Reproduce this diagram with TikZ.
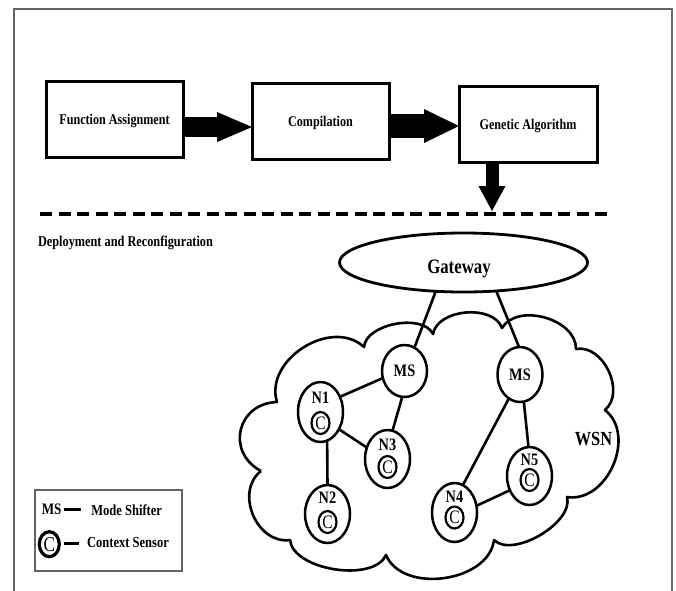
\documentclass[tikz,border=0pt]{standalone}
\usepackage{fontspec}
\setmainfont{Liberation Serif}[FakeStretch=0.82]
\usetikzlibrary{arrows.meta,shapes.geometric}

\newcommand{\fsz}[1]{\fontsize{#1}{#1}\selectfont}

\begin{document}
\begin{tikzpicture}[x=1pt,y=1pt,
  every node/.style={inner sep=0pt, outer sep=0pt},
  frameline/.style={draw=black!60, line width=1.3pt},
  stage/.style={draw, line width=3pt, minimum width=137pt, minimum height=76pt,
    font=\bfseries\fsz{14.8}, text depth=0pt},
  flowA/.style={line width=20pt, -{Triangle[length=35pt,width=30pt,line width=0pt]}},
  flowB/.style={line width=24pt, -{Triangle[length=35pt,width=34pt,line width=0pt]}},
  flowdown/.style={line width=13pt, -{Triangle[length=25pt,width=27pt,line width=0pt]}},
  divider/.style={line width=4pt, dash pattern=on 12pt off 6.5pt},
  cloudline/.style={line width=2.6pt, line join=round},
  gwnode/.style={draw, ellipse, line width=2.8pt, minimum width=248pt, minimum height=59pt},
  msnode/.style={draw, ellipse, line width=2.5pt, minimum width=45pt,
    font=\bfseries\fsz{17.5}, text depth=0pt},
  snode/.style={draw, ellipse, line width=2.5pt, minimum width=45pt, minimum height=59pt},
  nlab/.style={font=\bfseries\fsz{17.5}, text depth=0pt},
  csym/.style={draw, ellipse, line width=2.2pt, minimum width=18pt, minimum height=22pt,
    font=\fsz{19}, text depth=0pt},
  link/.style={line width=2.6pt},
  legbox/.style={draw=black!60, line width=1.3pt, minimum width=147pt, minimum height=81pt},
  legsym/.style={draw, ellipse, line width=3.2pt, minimum width=20pt, minimum height=25pt,
    font=\fsz{21}, text depth=0pt},
  legtxt/.style={font=\bfseries\fsz{15.3}, text depth=0pt},
  legdash/.style={line width=3pt}
]
\useasboundingbox (0,0) rectangle (676,-590);

% outer frame
\draw[frameline] (14,-600) -- (14,-9) -- (672,-9) -- (672,-600);

% design flow
\node[stage] (fa) at (114.5,-119.5) {Function Assignment};
\node[stage] (comp) at (320.5,-121) {Compilation};
\node[stage, minimum width=138pt] (ga) at (528,-124) {Genetic Algorithm};

\coordinate (a1) at (0,-127);
\coordinate (a2) at (0,-126);
\draw[flowA] (fa.east |- a1) -- (comp.west |- a1);
\draw[flowB] (comp.east |- a2) -- (ga.west |- a2);

\coordinate (dtip) at (492,-211);
\draw[flowdown] (ga.south -| dtip) -- (dtip);

% separator
\coordinate (dl) at (40,-214);
\coordinate (dr) at (612,-214);
\draw[divider] (dl) -- (dr);

\node[anchor=west, font=\bfseries\fsz{15}, text depth=0pt] (deploy) at (38,-241)
  {Deployment and Reconfiguration};

% sensor network cloud
\coordinate (p1) at (261,-471);
\coordinate (p2) at (277,-402);
\coordinate (p3) at (364,-347);
\coordinate (p4) at (433,-334);
\coordinate (p5) at (502,-328);
\coordinate (p6) at (576,-349);
\coordinate (p7) at (605,-410);
\coordinate (p8) at (567,-497);
\coordinate (p9) at (494,-540);
\coordinate (p10) at (386,-555);
\coordinate (p11) at (290,-540);
\draw[cloudline]
  (p1) to[bend left=75, looseness=1.45] (p2)
       to[bend left=75, looseness=1.1] (p3)
       to[bend left=75, looseness=0.85] (p4)
       to[bend left=75, looseness=0.95] (p5)
       to[bend left=75, looseness=1.0] (p6)
       to[bend left=75, looseness=1.05] (p7)
       to[bend left=75, looseness=1.1] (p8)
       to[bend left=75, looseness=0.8] (p9)
       to[bend left=75, looseness=1.0] (p10)
       to[bend left=75, looseness=0.8] (p11)
       to[bend left=75, looseness=1.15] (p1);

% gateway
\node[gwnode] (gw) at (463.5,-262.5) {};
\node[font=\bfseries\fsz{20.5}, anchor=base] (gwt) at (459,-273) {Gateway};

% mode shifters
\node[msnode, minimum height=52pt] (ms1) at (404.5,-371) {MS};
\node[msnode, minimum height=55pt] (ms2) at (520,-374.5) {MS};

% sensor nodes
\node[snode, minimum height=60pt] (n1) at (320.5,-412) {};
\node[snode, minimum height=58pt] (n3) at (387.5,-459) {};
\node[snode, minimum height=58pt] (n2) at (327.5,-514) {};
\node[snode] (n4) at (454.5,-512.5) {};
\node[snode, minimum height=58pt] (n5) at (529.5,-476) {};

\node[nlab] (n1t) at ([yshift=14pt]n1.center) {N1};
\node[csym] (n1c) at ([yshift=-11pt]n1.center) {C};
\node[nlab] (n3t) at ([yshift=14pt]n3.center) {N3};
\node[csym] (n3c) at ([yshift=-8pt]n3.center) {C};
\node[nlab] (n2t) at ([yshift=16pt]n2.center) {N2};
\node[csym] (n2c) at ([yshift=-8pt]n2.center) {C};
\node[nlab] (n4t) at ([yshift=16pt]n4.center) {N4};
\node[csym] (n4c) at ([yshift=-5pt]n4.center) {C};
\node[nlab] (n5t) at ([yshift=16pt]n5.center) {N5};
\node[csym] (n5c) at ([yshift=-4pt]n5.center) {C};

\node[font=\bfseries\fsz{20}, text depth=0pt] (wsn) at (593.5,-438.5) {WSN};

% links
\draw[link] (gw.226) -- (ms1.67);
\draw[link] (gw.319) -- (ms2.92);
\draw[link] (ms1.198) -- (n1.38);
\draw[link] (ms1.265) -- (n3.80);
\draw[link] (n1.317) -- (n3.151);
\draw[link] (n1.283) -- (n2.90);
\draw[link] (ms2.245) -- (n4.73);
\draw[link] (ms2.278) -- (n5.92);
\draw[link] (n4.17) -- (n5.216);

% legend
\node[legbox] (leg) at (108.5,-530.5) {};
\node[font=\bfseries\fsz{16}, text depth=0pt] (lgms) at (51.7,-509.5) {MS};
\draw[legdash] ([xshift=2.8pt]lgms.east) -- ++(16.7,0);
\node[legtxt] (lgmsd) at (126.7,-510.5) {Mode Shifter};
\node[legsym] (lgc) at (49.3,-544.2) {C};
\draw[legdash] ([xshift=5pt,yshift=1pt]lgc.east) -- ++(15,0);
\node[legtxt] (lgcd) at (128,-542.5) {Context Sensor};
\end{tikzpicture}
\end{document}
